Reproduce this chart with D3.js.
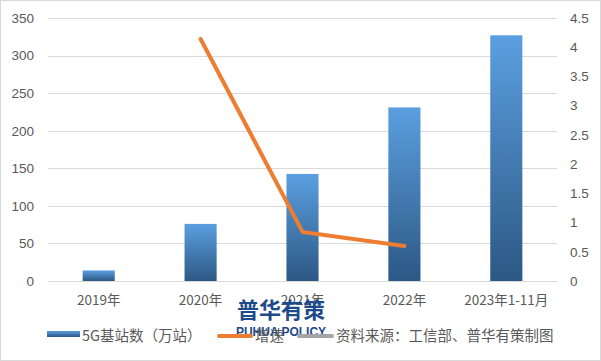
<!DOCTYPE html>
<html>
<head>
<meta charset="utf-8">
<script src="https://cdn.jsdelivr.net/npm/d3@7"></script>
<style>
  body { margin: 0; background: #fff; }
  svg { display: block; font-family: "Noto Sans CJK SC", "DejaVu Sans", sans-serif; }
</style>
</head>
<body>
<svg id="chart"></svg>
<script>
// data
var years = ["2019年", "2020年", "2021年", "2022年", "2023年1-11月"];
var stations = [14, 76, 142.5, 231, 327];
var growthYears = ["2020年", "2021年", "2022年"];
var growth = [4.14, 0.84, 0.6];
var leftTicks = [0, 50, 100, 150, 200, 250, 300, 350];
var rightTicks = [0, 0.5, 1, 1.5, 2, 2.5, 3, 3.5, 4, 4.5];

var drawChart = function(svgSelector)
{
  var screen = {width: 601, height: 361};
  var margins = {top: 18, bottom: 80, left: 48, right: 44};
  var plotRight = screen.width - margins.right;
  var plotBottom = screen.height - margins.bottom;

  var svg = d3.select(svgSelector)
              .attr("width", screen.width)
              .attr("height", screen.height);

  svg.append("rect")
     .attr("x", 0.5).attr("y", 0.5)
     .attr("width", screen.width - 1).attr("height", screen.height - 1)
     .attr("fill", "white")
     .style("stroke", "#d9d9d9");

  var defs = svg.append("defs");
  var grad = defs.append("linearGradient")
                 .attr("id", "barGrad")
                 .attr("x1", 0).attr("y1", 0).attr("x2", 0).attr("y2", 1);
  grad.append("stop").attr("offset", "0%").attr("stop-color", "#5b9fe0");
  grad.append("stop").attr("offset", "100%").attr("stop-color", "#2c5884");

  var xScale = d3.scaleBand()
                 .domain(years)
                 .range([margins.left, plotRight])
                 .paddingInner(0.685)
                 .paddingOuter(0.34);

  var yLeft = d3.scaleLinear().domain([0, 350]).range([plotBottom, margins.top]);
  var yRight = d3.scaleLinear().domain([0, 4.5]).range([plotBottom, margins.top]);

  // gridlines
  svg.append("g")
     .selectAll("line")
     .data(leftTicks)
     .enter()
     .append("line")
     .attr("x1", margins.left)
     .attr("x2", plotRight)
     .attr("y1", function(d){ return Math.round(yLeft(d)) + 0.5; })
     .attr("y2", function(d){ return Math.round(yLeft(d)) + 0.5; })
     .style("stroke", "#d9d9d9")
     .style("stroke-width", 1);

  // left axis
  var leftAxis = svg.append("g")
     .attr("transform", "translate(" + (margins.left - 14) + ",0)")
     .call(d3.axisLeft(yLeft).tickValues(leftTicks).tickSize(0).tickPadding(0));
  leftAxis.select(".domain").remove();
  leftAxis.selectAll("text").attr("font-size", 13.5).attr("fill", "#595959")
          .attr("font-family", "Liberation Sans");

  // right axis
  var rightAxis = svg.append("g")
     .attr("transform", "translate(" + (plotRight + 13) + ",0)")
     .call(d3.axisRight(yRight).tickValues(rightTicks).tickSize(0).tickPadding(0)
             .tickFormat(function(d){ return d; }));
  rightAxis.select(".domain").remove();
  rightAxis.selectAll("text").attr("font-size", 13.5).attr("fill", "#595959")
           .attr("font-family", "Liberation Sans");

  // bars
  svg.append("g")
     .selectAll("rect")
     .data(stations)
     .enter()
     .append("rect")
     .attr("x", function(d, i){ return xScale(years[i]); })
     .attr("y", function(d){ return yLeft(d); })
     .attr("width", xScale.bandwidth())
     .attr("height", function(d){ return plotBottom - yLeft(d); })
     .attr("fill", "url(#barGrad)");

  // category labels
  svg.append("g")
     .selectAll("text")
     .data(years)
     .enter()
     .append("text")
     .text(function(d){ return d; })
     .attr("x", function(d){ return xScale(d) + xScale.bandwidth() / 2; })
     .attr("y", 305)
     .attr("text-anchor", "middle")
     .attr("font-size", 13.5)
     .attr("fill", "#595959");

  // growth line
  var line = d3.line()
               .x(function(d, i){ return xScale(growthYears[i]) + xScale.bandwidth() / 2; })
               .y(function(d){ return yRight(d); });
  svg.append("path")
     .datum(growth)
     .attr("d", line)
     .attr("fill", "none")
     .style("stroke", "#ed7d31")
     .style("stroke-width", 4)
     .style("stroke-linecap", "round")
     .style("stroke-linejoin", "round");

  // watermark
  var mark = svg.append("g").attr("fill", "#1d4a8a");
  mark.append("text")
      .text("普华有策")
      .attr("x", 281).attr("y", 318)
      .attr("text-anchor", "middle")
      .attr("font-size", 22)
      .attr("font-weight", "bold");
  mark.append("text")
      .text("PUHUA POLICY")
      .attr("x", 281).attr("y", 336)
      .attr("text-anchor", "middle")
      .attr("font-size", 12)
      .attr("font-weight", "bold")
      .attr("font-family", "Liberation Sans");

  // legend
  var legend = svg.append("g").attr("font-size", 14.5).attr("fill", "#595959");
  legend.append("rect")
        .attr("x", 47).attr("y", 331)
        .attr("width", 33).attr("height", 6)
        .attr("fill", "url(#barGrad)");
  legend.append("text").text("5G基站数（万站）").attr("x", 82).attr("y", 341);

  legend.append("line")
        .attr("x1", 219).attr("x2", 251).attr("y1", 336).attr("y2", 336)
        .style("stroke", "#ed7d31").style("stroke-width", 4)
        .style("stroke-linecap", "round");
  legend.append("text").text("增速").attr("x", 255).attr("y", 341);

  legend.append("line")
        .attr("x1", 299).attr("x2", 332).attr("y1", 336).attr("y2", 336)
        .style("stroke", "#a5a5a5").style("stroke-width", 4)
        .style("stroke-linecap", "round");
  legend.append("text").text("资料来源：工信部、普华有策制图").attr("x", 336).attr("y", 341);
}

drawChart("#chart");
</script>
</body>
</html>
